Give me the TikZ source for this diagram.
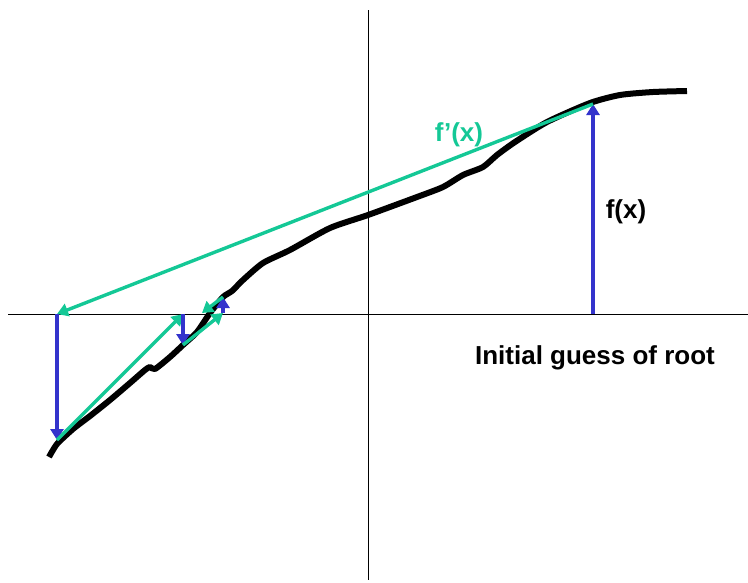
\documentclass[tikz,border=0pt]{standalone}
\usepackage{fontspec}
\setmainfont{Liberation Sans}
\usetikzlibrary{arrows.meta}
\definecolor{stepblue}{RGB}{51,51,204}
\definecolor{tangentgreen}{RGB}{20,200,150}

\begin{document}
\begin{tikzpicture}[
    x=1pt, y=-1pt,
    font=\fontsize{26}{30}\selectfont\bfseries,
    step arrow/.style={stepblue, line width=3.6pt, -{Triangle[width=13pt,length=11pt]}},
    tangent arrow/.style={tangentgreen, line width=3.4pt, -{Triangle[width=13pt,length=11pt]}}
]
\useasboundingbox (0,0) rectangle (748,582);

% axes
\draw[line width=1pt] (8,314) -- (748,314);
\draw[line width=1pt] (368,10) -- (368,580);

% the function
\draw[line width=6pt, line join=round] plot[smooth, tension=0.4] coordinates {
    (49,457) (57,444) (73,429) (90,416) (110,400) (130,383) (145,370)
    (150,367) (155,369) (170,357) (183,345) (197,332) (210,313) (223,297)
    (232,291) (243,280) (263,263) (290,250) (330,228) (368,215)
    (417,197) (443,187) (463,175) (483,167) (497,155) (515,142)
    (547,122) (590,103) (620,95) (653,92) (687,91)};

% iteration points
\coordinate (x0) at (593,314);
\coordinate (f0) at (593,104);
\coordinate (x1) at (57,314);
\coordinate (f1) at (57,440);
\coordinate (x2) at (183,314);
\coordinate (f2) at (183,345);
\coordinate (x3) at (223,313);
\coordinate (f3) at (223,297);
\coordinate (x4) at (202,313);

\draw[step arrow] (x0) -- (f0);
\draw[tangent arrow] (f0) -- (x1);
\draw[step arrow] (x1) -- (f1);
\draw[tangent arrow] (f1) -- (x2);
\draw[step arrow] (x2) -- (f2);
\draw[tangent arrow] (f2) -- (x3);
\draw[step arrow] (x3) -- (f3);
\draw[tangent arrow] (f3) -- (x4);

% labels
\node[tangentgreen] (fprime) at (459,135) {f’(x)};
\node (fval) at (626,212) {f(x)};
\node (guess) at (595,358) {Initial guess of root};

\end{tikzpicture}
\end{document}
